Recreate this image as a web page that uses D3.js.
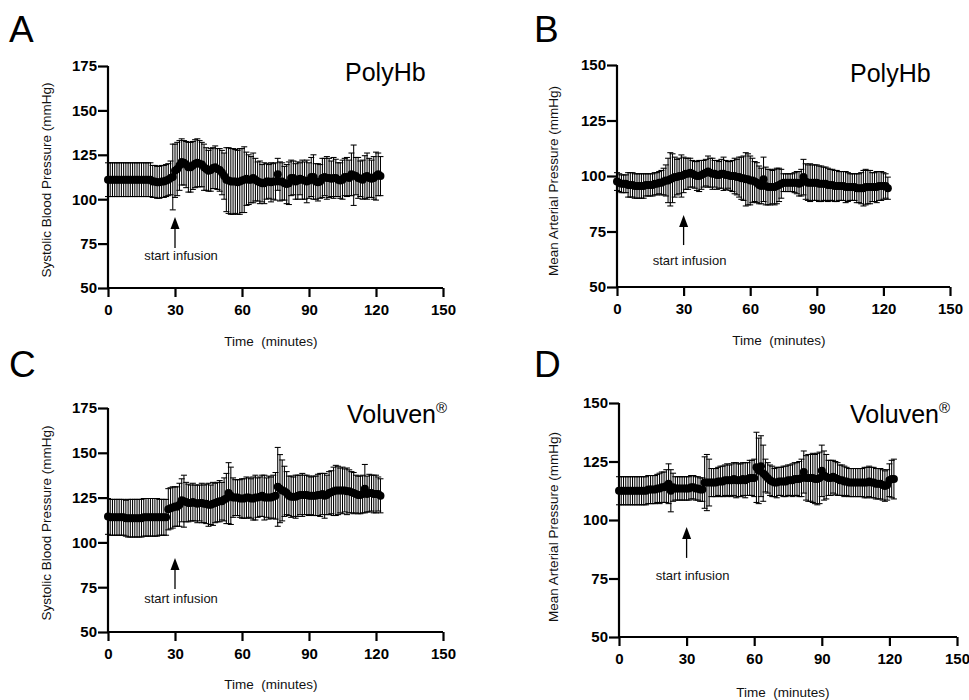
<!DOCTYPE html>
<html>
<head>
<meta charset="utf-8">
<script src="https://cdn.jsdelivr.net/npm/d3@7"></script>
<style>
  html, body { margin: 0; padding: 0; background: #fff; }
  svg { display: block; font-family: "Liberation Sans", Arial, sans-serif; }
</style>
</head>
<body>
<svg id="chart" width="969" height="700"></svg>
<script>
// ---------------- DATA (one value per minute, 0..122) ----------------
const sbpTicks = [50, 75, 100, 125, 150, 175];
const mapTicks = [50, 75, 100, 125, 150];
const timeTicks = [0, 30, 60, 90, 120, 150];

// A: PolyHb systolic blood pressure, mean and SD (mmHg)
const polySbpMean = [
  111,111,111,111,111,111,111,111,111,111,
  111,111,111,111,111,111,111,111,111,111,
  110,110,109.5,109.5,110,110,110.5,111,112,112.5,
  116,117,119,121,120.5,119.5,118,118,119,120,
  120.5,120,119.5,118,117,116,116.5,117.5,118,117,
  116.5,115,113,111,110.5,110,110,110,109.5,110,
  110.5,111,111.5,111,111,112,111,110,109.5,109,
  109,110,110,109.5,110,110,114,110,110,109,
  108.5,109,112,112,110,110.5,111.5,111,110.5,110,
  110.5,112.5,112.5,110,109.5,110,112,112.5,112,112,
  111.5,112,112,111,110.5,111,112.5,112.5,112,114,
  113.5,113,112,111.5,111,112.5,113,112,111.5,112,
  113,114,113
];
const polySbpSd = [
  9.5,9.5,9.5,9.5,9.5,9.5,9.5,9.5,9.5,9.5,
  9.5,9.5,9.5,9.5,9.5,9.5,9.5,9.5,9.5,9.5,
  9,9,9,9,9,9,9,9,9.5,18.5,
  15,15,14,13,12.5,13,14,14,13.5,13.5,
  13.5,13,12.5,13,12,11.5,12,11.5,12,11.5,
  12,12.5,13,18,18.5,18.5,18.5,18,18,18.5,
  18,18.5,15,14,13,14,12,11,12,10.5,
  11.5,10,9.5,11,10,10.5,9,11,10.5,9.5,
  11,12,10,9.5,10,10.5,9,11,10.5,12,
  10,11,12.5,10,10.5,9.5,11,10.5,12,11,
  10,11.5,10.5,9.5,10,11,10.5,11,10,12,
  17,10.5,11.5,10,11,12,13,11,10.5,12,
  13.5,12,11
];

// B: PolyHb mean arterial pressure
const polyMapMean = [
  97.5,97,96.5,96.5,96.5,96,96,96,95.5,95.5,
  95.5,95.5,95.5,96,96,96,96,96.5,96.5,97,
  97,97.5,98,98,98.5,99,99.5,99.5,100,100,
  100.5,101,101,101.5,101,100.5,100,100,100.5,101,
  101.5,102,101.5,101,101,100.5,100.5,101,101,100.5,
  100.5,100,100,100,99.5,99.5,99,99,98.5,98.5,
  98,98,97.5,97,96,95.5,98.5,95.5,95,95,
  95,95,95.5,96,96.5,97,97,97,97,97,
  97,97,96.5,97,99.5,97.5,97,97,97,97,
  97,96.5,96.5,96.5,96.5,96,96,96,95.5,95.5,
  95.5,95.5,95.5,95,95,95,95,95,94.5,94.5,
  94.5,94.5,95,95,95,95,95,95,95.5,95.5,
  95.5,95.5,94.5
];
const polyMapSd = [
  4,4,4,4,4,5.5,5.5,5.5,5.5,5.5,
  5.5,5.5,5.5,5,5,5,5,5,5,5,
  5.5,6,7,10,12,11,9,8,8,9.5,
  8,7,7,6.5,6,6,6.5,7,6.5,6,
  6,7,6.5,7,6,6.5,6,6.5,7.5,6.5,
  6,6.5,7,8,8,9,9.5,10,12,11.5,
  11,10,9,9,8.5,8,10,8.5,8,8,
  7.5,8,8,7.5,6.5,4,4,4,4,4,
  4.5,5,5.5,6,8,8,8,8.5,8,8,
  8,8,8,7.5,7.5,7.5,7,7,7,7,
  6.5,6.5,6.5,7,6.5,6,6,6,6.5,6.5,
  7,8,8,7.5,7.5,6.5,6.5,7,6.5,6.5,
  6,5.5,5
];

// C: Voluven systolic blood pressure
const volSbpMean = [
  114.5,114,114,114,114,114,114,114,113.5,113.5,
  113.5,113.5,113.5,113.5,113.5,113.5,114,114,114,114,
  114,114,114,114,114,114,114,118.5,119,119.5,
  120,120,121,123.5,123,122.5,122,122,122.5,122,
  121.5,122,122,121.5,121.5,121,121,121.5,122,122.5,
  123,123,124,124.5,127.5,126,125,125,125,124.5,
  124.5,124.5,125,125,124.5,124.5,125,125,125.5,126,
  125,125,125,125,125.5,126,131,130,129,128.5,
  127.5,126,125.5,125.5,125.5,126,126.5,126.5,126.5,126.5,
  126,126,126,126,126.5,126.5,127,126,126.5,127.5,
  128,128.5,129,129,129,129,129,128.5,128.5,128,
  127.5,127,126.5,126.5,127,130,127,127.5,127.5,127,
  127,127,126
];
const volSbpSd = [
  10,10,10,10,10,10,10,10,10,10.5,
  10.5,10.5,10.5,10.5,10.5,10.5,10.5,10.5,10.5,10.5,
  10.5,10.5,10.5,10,10,10,10,11.5,11.5,11.5,
  11,11,12,12,14.5,11,10.5,10,10.5,10,
  10.5,10,11,10.5,11,12,11,12,11,11,
  11.5,10.5,12,14,17,16,11,10,10,10.5,
  11,11,11.5,11,11,12,12.5,11,11,11.5,
  12.5,11,12,11.5,12,13,22,19,17,14,
  12,11,11.5,11,12,11.5,11,12,11,11,
  11,10.5,11,11,11.5,12,11.5,12.5,11,12,
  12,13.5,14,13.5,12.5,13,12,13,12,11.5,
  11.5,10.5,10.5,10.5,10.5,13.5,10,10.5,10,10.5,
  10.5,9.5,9.5
];

// D: Voluven mean arterial pressure
const volMapMean = [
  112.5,112.5,112.5,112.5,112.5,112.5,112.5,112.5,112.5,112.5,
  112.5,112.5,112.5,113,113,113,113,113.5,113.5,114,
  114,114.5,115.5,112.5,114,113.5,113.5,113.5,113.5,113.5,
  113.5,113.5,114,114,113.5,113.5,113,113,116,116,
  116,116,116,116,116.5,116.5,116.5,117,117,117,
  117,117.5,117,117,117,117.5,117,117.5,118,118,
  118,122.5,121,123,120,119,118,117,116.5,116,
  116,116.5,116.5,116.5,116.5,117,117,117,117.5,117.5,
  117.5,118,120.5,118,118,118,118,117.5,117.5,118,
  121,119,118.5,118,118,118.5,118,117.5,117,117,
  116.5,116.5,116,116,116,116,116,116,116,116,
  116,116.5,116,116,115.5,115.5,115.5,115,114.5,115,
  117,117.5,117.5
];
const volMapSd = [
  6,6,6,6,6,6,6,6,6,6,
  6,6,6,6,6,6,6,6,6.5,6.5,
  6.5,7,8.5,9,6,5,5,5,5,5,
  5,5,5,5,5,5,5,5,11,12,
  10,6,6,6,6,6.5,6.5,6.5,7,6.5,
  7,7,7.5,7,7,7,7.5,7,7.5,7.5,
  8,15,14,13,12,7,6.5,6.5,6.5,6,
  6.5,6,6,6.5,6.5,6.5,6.5,7,7,7,
  7.5,8,9,9.5,10,10,10.5,10.5,11,11,
  11,10.5,9.5,7.5,7.5,7,7,7,6.5,6.5,
  6.5,6,6,6,6,6,6,6,6,6.5,
  6.5,6.5,6.5,6.5,6.5,6.5,6.5,6.5,6.5,6.5,
  7,8,8.5
];

// ---------------- LAYOUT ----------------
const FONT = '"Liberation Sans", Arial, sans-serif';
const panels = [
  { letter: 'A', mean: polySbpMean, sd: polySbpSd, yDomain: [50, 175], yTicks: sbpTicks,
    yLabel: 'Systolic Blood Pressure (mmHg)', name: 'PolyHb', reg: false,
    x0: 108, x1: 443, yT: 66, yB: 288, letterX: 9, letterY: 42,
    nameX: 345, nameY: 81, yLabelX: 46, yLabelY: 180, xTitleX: 271, xTitleY: 346,
    arrowTip: 90, arrowBase: 72.5, textV: 65.9 },
  { letter: 'B', mean: polyMapMean, sd: polyMapSd, yDomain: [50, 150], yTicks: mapTicks,
    yLabel: 'Mean Arterial Pressure (mmHg)', name: 'PolyHb', reg: false,
    x0: 617, x1: 950, yT: 65, yB: 287, letterX: 534, letterY: 42,
    nameX: 850, nameY: 82, yLabelX: 553, yLabelY: 181, xTitleX: 779, xTitleY: 345,
    arrowTip: 82.4, arrowBase: 68.9, textV: 59.9 },
  { letter: 'C', mean: volSbpMean, sd: volSbpSd, yDomain: [50, 175], yTicks: sbpTicks,
    yLabel: 'Systolic Blood Pressure (mmHg)', name: 'Voluven', reg: true,
    x0: 108, x1: 443, yT: 408, yB: 632, letterX: 9, letterY: 377,
    nameX: 347, nameY: 423, yLabelX: 46, yLabelY: 523, xTitleX: 271, xTitleY: 689,
    arrowTip: 91.3, arrowBase: 74, textV: 66.2 },
  { letter: 'D', mean: volMapMean, sd: volMapSd, yDomain: [50, 150], yTicks: mapTicks,
    yLabel: 'Mean Arterial Pressure (mmHg)', name: 'Voluven', reg: true,
    x0: 619, x1: 957, yT: 403, yB: 637, letterX: 534, letterY: 377,
    nameX: 850, nameY: 423, yLabelX: 553, yLabelY: 527, xTitleX: 783, xTitleY: 697,
    arrowTip: 97, arrowBase: 83.8, textV: 74.4 }
];

const svg = d3.select('#chart');

panels.forEach(p => {
  const g = svg.append('g');
  const x = d3.scaleLinear().domain([0, 150]).range([p.x0, p.x1]);
  const y = d3.scaleLinear().domain(p.yDomain).range([p.yB, p.yT]);

  const data = p.mean.map((m, i) => ({ t: i, m: m, s: p.sd[i] }));

  // error bars
  const eb = g.append('g').attr('stroke', '#000').attr('stroke-width', 1.05).attr('fill', 'none');
  eb.selectAll('line.v').data(data).join('line').attr('class', 'v')
    .attr('x1', d => x(d.t)).attr('x2', d => x(d.t))
    .attr('y1', d => y(d.m + d.s)).attr('y2', d => y(d.m - d.s));
  eb.selectAll('line.cu').data(data).join('line').attr('class', 'cu')
    .attr('x1', d => x(d.t) - 3).attr('x2', d => x(d.t) + 3)
    .attr('y1', d => y(d.m + d.s)).attr('y2', d => y(d.m + d.s));
  eb.selectAll('line.cl').data(data).join('line').attr('class', 'cl')
    .attr('x1', d => x(d.t) - 3).attr('x2', d => x(d.t) + 3)
    .attr('y1', d => y(d.m - d.s)).attr('y2', d => y(d.m - d.s));

  // mean markers
  g.append('g').selectAll('circle').data(data).join('circle')
    .attr('cx', d => x(d.t)).attr('cy', d => y(d.m)).attr('r', 4).attr('fill', '#000');

  // axes
  const xAxis = d3.axisBottom(x).tickValues(timeTicks).tickSize(9).tickSizeOuter(0).tickPadding(7);
  const yAxis = d3.axisLeft(y).tickValues(p.yTicks).tickSize(10).tickSizeOuter(0).tickPadding(1);
  const gx = g.append('g').attr('transform', `translate(0,${p.yB})`).call(xAxis);
  const gy = g.append('g').attr('transform', `translate(${p.x0},0)`).call(yAxis);
  [gx, gy].forEach(a => {
    a.select('.domain').attr('stroke', '#000').attr('stroke-width', 2.2);
    a.selectAll('.tick line').attr('stroke', '#000').attr('stroke-width', 2.2);
    a.selectAll('.tick text').attr('fill', '#000').style('font-family', FONT)
      .style('font-size', '15px').style('font-weight', 'bold');
  });
  gx.select('.domain').attr('d', `M${p.x0 - 1},0H${p.x1}`);
  gy.select('.domain').attr('d', `M0,${p.yB + 1}V${p.yT}`);

  // axis titles
  g.append('text').attr('x', p.xTitleX).attr('y', p.xTitleY).attr('text-anchor', 'middle')
    .style('font-family', FONT).style('font-size', '13.5px').attr('fill', '#111')
    .attr('xml:space', 'preserve').text('Time  (minutes)');
  g.append('text').attr('transform', `translate(${p.yLabelX},${p.yLabelY}) rotate(-90)`)
    .attr('text-anchor', 'middle').attr('dy', '0.35em')
    .style('font-family', FONT).style('font-size', '13.5px').attr('fill', '#111')
    .text(p.yLabel);

  // panel letter
  g.append('text').attr('x', p.letterX).attr('y', p.letterY)
    .style('font-family', FONT).style('font-size', '37px').attr('fill', '#000').text(p.letter);

  // group name
  const nt = g.append('text').attr('x', p.nameX).attr('y', p.nameY)
    .style('font-family', FONT).style('font-size', '25px').attr('fill', '#000');
  nt.append('tspan').text(p.name);
  if (p.reg) {
    nt.append('tspan').attr('dy', -10).style('font-size', '15px').text('®');
  }

  // start infusion arrow
  const ax = x(30);
  const tipY = y(p.arrowTip);
  g.append('line').attr('x1', ax).attr('x2', ax).attr('y1', tipY + 9).attr('y2', y(p.arrowBase))
    .attr('stroke', '#000').attr('stroke-width', 1.3);
  g.append('path').attr('d', `M${ax},${tipY}L${ax - 4.5},${tipY + 12}L${ax + 4.5},${tipY + 12}Z`).attr('fill', '#000');
  g.append('text').attr('x', ax + 6).attr('y', y(p.textV)).attr('text-anchor', 'middle')
    .style('font-family', FONT).style('font-size', '13px').attr('fill', '#111').text('start infusion');
});
</script>
</body>
</html>
